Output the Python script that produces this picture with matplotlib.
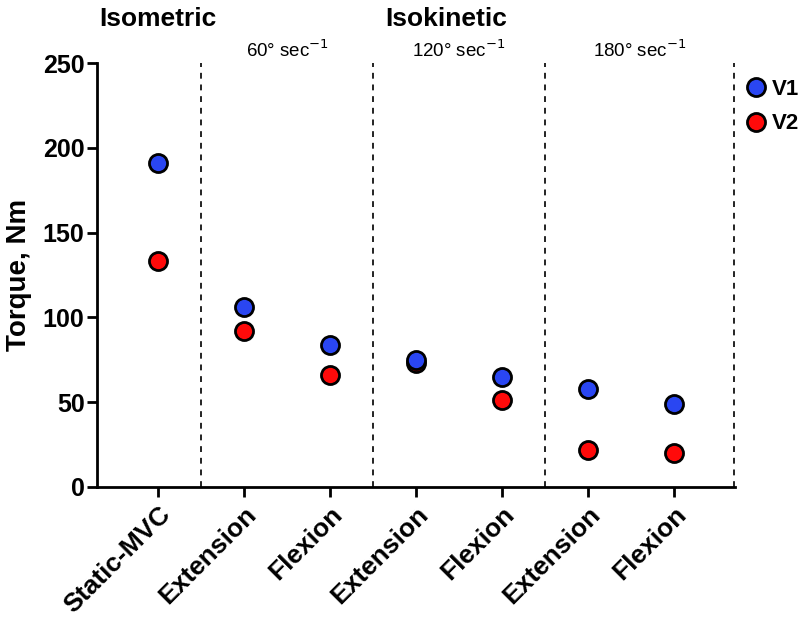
import numpy as np
import matplotlib
matplotlib.use("Agg")
import matplotlib.pyplot as plt
from matplotlib.lines import Line2D

plt.rcParams['font.family'] = ['Liberation Sans', 'DejaVu Sans']

# data
categories = ["Static-MVC", "Extension", "Flexion", "Extension", "Flexion", "Extension", "Flexion"]
v1 = [191, 106, 84, 75, 65, 58, 49]
v2 = [133, 92, 66, 73, 51, 22, 20]
speed_labels = ["60° sec$^{-1}$", "120° sec$^{-1}$", "180° sec$^{-1}$"]
separators = [0.5, 2.5, 4.5, 6.7]

blue = "#2a46f2"
red = "#ff0a0a"

fig = plt.figure(figsize=(8.09, 6.18), dpi=100)
ax = fig.add_axes([0.120, 0.212, 0.7885, 0.686])

x = np.arange(len(categories))
ax.plot(x, v2, "o", ms=13, mfc=red, mec="black", mew=2, zorder=3)
ax.plot(x, v1, "o", ms=13, mfc=blue, mec="black", mew=2, zorder=4)

for s in separators:
    ax.axvline(s, color="#222222", ls=(0, (3, 3)), lw=1.4, zorder=1)

ax.set_xlim(-0.71, 6.71)
ax.set_ylim(0, 250)
ax.set_yticks(range(0, 251, 50))
ax.set_xticks(x)
ax.set_xticklabels(categories, rotation=45, ha="right", rotation_mode="anchor",
                   fontsize=19, fontweight="bold")
for lab in ax.get_yticklabels():
    lab.set_fontsize(18)
    lab.set_fontweight("bold")
ax.set_ylabel("Torque, Nm", fontsize=20, fontweight="bold", labelpad=8)

for side in ["top", "right"]:
    ax.spines[side].set_visible(False)
for side in ["left", "bottom"]:
    ax.spines[side].set_linewidth(2)
ax.tick_params(axis="both", width=2, length=7, direction="out")
ax.tick_params(axis="x", pad=4)
ax.tick_params(axis="y", pad=2)

# group headers
ax.text(0, 1.105, "Isometric", transform=ax.get_xaxis_transform(), ha="center",
        va="center", fontsize=19, fontweight="bold")
ax.text(3.35, 1.105, "Isokinetic", transform=ax.get_xaxis_transform(), ha="center",
        va="center", fontsize=19, fontweight="bold")
mids = [(separators[i] + separators[i + 1]) / 2 for i in range(3)]
for m, lab in zip(mids, speed_labels):
    ax.text(m, 1.03, lab, transform=ax.get_xaxis_transform(), ha="center",
            va="center", fontsize=13.5)

handles = [Line2D([], [], ls="", marker="o", ms=13, mfc=c, mec="black", mew=2) for c in (blue, red)]
leg = fig.legend(handles, ["V1", "V2"], loc="upper left", bbox_to_anchor=(0.91, 0.89),
                 frameon=False, handletextpad=0.3, labelspacing=0.6, borderpad=0,
                 handlelength=0.8, prop={"size": 16, "weight": "bold"})

fig.savefig("out.png", dpi=100)
